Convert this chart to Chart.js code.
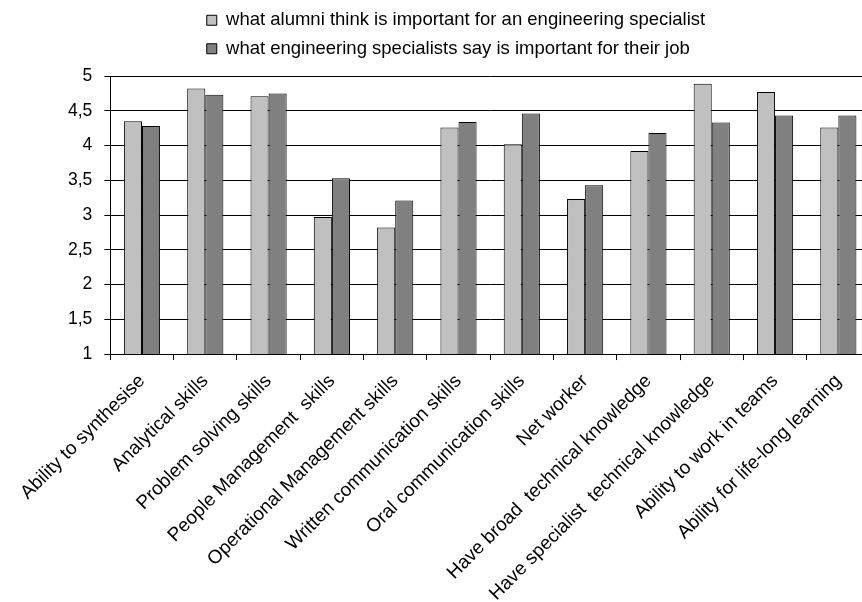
<!DOCTYPE html>
<html>
<head>
<meta charset="utf-8">
<script src="https://cdn.jsdelivr.net/npm/chart.js@4/dist/chart.umd.min.js"></script>
<style>
  html, body { margin: 0; padding: 0; background: #ffffff; overflow: hidden; }
  #wrap { width: 872px; height: 602px; }
  canvas { display: block; }
</style>
</head>
<body>
<div id="wrap"><canvas id="chart" width="872" height="602"></canvas></div>
<script>
// Skill categories along the x axis
const categories = [
  'Ability to synthesise',
  'Analytical skills',
  'Problem solving skills',
  'People Management  skills',
  'Operational Management skills',
  'Written communication skills',
  'Oral communication skills',
  'Net worker',
  'Have broad  technical knowledge',
  'Have specialist  technical knowledge',
  'Ability to work in teams',
  'Ability for life-long learning'
];

// Series names
const seriesNames = [
  'what alumni think is important for an engineering specialist',
  'what engineering specialists say is important for their job'
];

// Mean importance scores (scale 1-5)
const alumniValues     = [4.35, 4.82, 4.71, 2.97, 2.82, 4.26, 4.02, 3.23, 3.92, 4.89, 4.77, 4.26];
const specialistValues = [4.28, 4.73, 4.75, 3.53, 3.21, 4.34, 4.46, 3.43, 4.18, 4.33, 4.43, 4.43];

// Value axis ticks and their labels (decimal comma)
const yTickValues = [1, 1.5, 2, 2.5, 3, 3.5, 4, 4.5, 5];
const yTickLabels = ['1', '1,5', '2', '2,5', '3', '3,5', '4', '4,5', '5'];

const FONT = '"Liberation Sans", Arial, Helvetica, sans-serif';

// Legend block: both rows start at the same x; block position fine-tuned
const LEGEND_SHIFT_X = -7;
const LEGEND_SHIFT_Y = -8;
const legendBlockAlign = {
  id: 'legendBlockAlign',
  afterLayout(chart) {
    const lg = chart.legend;
    if (!lg) return;
    if (Array.isArray(lg.lineWidths) && lg.lineWidths.length > 1) {
      const m = Math.max(...lg.lineWidths);
      lg.lineWidths = lg.lineWidths.map(() => m);
    }
    lg.left += LEGEND_SHIFT_X;
    lg.right += LEGEND_SHIFT_X;
    lg.top += LEGEND_SHIFT_Y;
    lg.bottom += LEGEND_SHIFT_Y;
  }
};

new Chart(document.getElementById('chart'), {
  type: 'bar',
  data: {
    labels: categories,
    datasets: [
      {
        label: seriesNames[0],
        data: alumniValues,
        backgroundColor: '#c0c0c0',
        borderColor: '#000000',
        borderWidth: 1,
        borderSkipped: false
      },
      {
        label: seriesNames[1],
        data: specialistValues,
        backgroundColor: '#808080',
        borderColor: '#000000',
        borderWidth: 1,
        borderSkipped: false
      }
    ]
  },
  plugins: [legendBlockAlign],
  options: {
    responsive: false,
    animation: false,
    devicePixelRatio: 1,
    layout: { padding: { top: 0, left: 56, right: 2, bottom: -13 } },
    datasets: {
      bar: { categoryPercentage: 0.5714, barPercentage: 1.0 }
    },
    plugins: {
      legend: {
        position: 'top',
        align: 'center',
        labels: {
          font: { family: FONT, size: 18.5 },
          color: '#000000',
          boxWidth: 10,
          boxHeight: 10,
          padding: 10
        }
      },
      tooltip: { enabled: false }
    },
    scales: {
      x: {
        grid: {
          offset: true,
          drawOnChartArea: false,
          drawTicks: true,
          tickLength: 6,
          color: '#000000'
        },
        border: { color: '#000000', width: 1 },
        ticks: {
          autoSkip: false,
          minRotation: 45,
          maxRotation: 45,
          padding: 10,
          color: '#000000',
          font: { family: FONT, size: 19 }
        }
      },
      y: {
        min: 1,
        max: 5,
        afterBuildTicks(scale) {
          scale.ticks = yTickValues.map(v => ({ value: v }));
        },
        afterFit(scale) {
          // room between the legend and the top of the plot
          scale.paddingTop = 76;
        },
        grid: {
          color: '#000000',
          drawTicks: true,
          tickLength: 6
        },
        border: { color: '#000000', width: 1 },
        ticks: {
          padding: 12,
          color: '#000000',
          font: { family: FONT, size: 17.5 },
          callback(value) {
            const i = yTickValues.indexOf(value);
            return i >= 0 ? yTickLabels[i] : '';
          }
        }
      }
    }
  }
});
</script>
</body>
</html>
